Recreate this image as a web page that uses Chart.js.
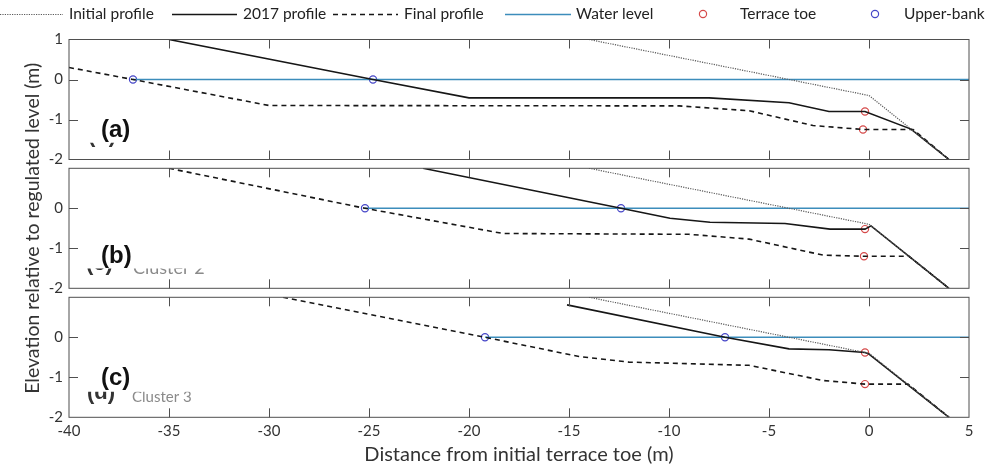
<!DOCTYPE html>
<html><head><meta charset="utf-8">
<script src="https://cdn.jsdelivr.net/npm/chart.js@4.4.1/dist/chart.umd.min.js"></script>
<style>
html,body{margin:0;padding:0;background:#fff;}
#wrap{position:relative;width:988px;height:465px;overflow:hidden;background:#fff;}
canvas{position:absolute;left:0;top:0;}
</style></head>
<body><div id="wrap">
<canvas id="pa" width="988" height="465"></canvas>
<canvas id="pb" width="988" height="465"></canvas>
<canvas id="pc" width="988" height="465"></canvas>
</div>
<script>
// ---- tick labels / text ----
const xTicks = [-40, -35, -30, -25, -20, -15, -10, -5, 0, 5];
const yTicks = [-2, -1, 0, 1];
const seriesNames = ['Initial profile', '2017 profile', 'Final profile', 'Water level', 'Terrace toe', 'Upper-bank'];
const panelLabels = ['(a)', '(b)', '(c)'];
const ghostLabels = [['(b)', ''], ['(c)', 'Cluster 2'], ['(d)', 'Cluster 3']];
const xTitle = 'Distance from initial terrace toe (m)';
const yTitle = 'Elevation relative to regulated level (m)';

// ---- initial profile (same in every panel) ----
const initialX = [-14, 0, 4];
const initialY = [1, -0.4, -2];

// ---- panel (a) ----
const a2017X = [-35, -24.8, -20, -8, -4, -2, -0.2, 2.1, 4];
const a2017Y = [1, 0, -0.46, -0.46, -0.58, -0.8, -0.8, -1.24, -2];
const aFinalX = [-40, -36.8, -30, -9.5, -6, -2.8, -0.3, 2.2, 4];
const aFinalY = [0.3, 0, -0.65, -0.66, -0.78, -1.15, -1.25, -1.25, -2];
const aWaterX = [-36.8, 5];
const aToeX = [-0.2, -0.3];
const aToeY = [-0.8, -1.25];
const aBankX = [-36.8, -24.8];

// ---- panel (b) ----
const b2017X = [-22.3, -12.4, -9.95, -7.95, -4.2, -1.95, -0.2, 0.1, 4];
const b2017Y = [1, 0, -0.25, -0.35, -0.38, -0.52, -0.52, -0.44, -2];
const bFinalX = [-35, -25.2, -18.3, -9, -6, -2.3, -0.25, 2.0, 4];
const bFinalY = [1, 0, -0.63, -0.65, -0.77, -1.17, -1.2, -1.2, -2];
const bWaterX = [-25.2, 5];
const bToeX = [-0.2, -0.25];
const bToeY = [-0.52, -1.2];
const bBankX = [-25.2, -12.4];

// ---- panel (c) ----
const c2017X = [-15.1, -7.2, -4.0, -2.0, -0.2, 0, 4];
const c2017Y = [0.81, 0, -0.29, -0.31, -0.38, -0.42, -2];
const cFinalX = [-29.3, -19.2, -14.5, -12, -6, -2.3, -0.2, 1.95, 4];
const cFinalY = [1, 0, -0.48, -0.62, -0.7, -1.08, -1.17, -1.17, -2];
const cWaterX = [-19.2, 5];
const cToeX = [-0.2, -0.2];
const cToeY = [-0.38, -1.17];
const cBankX = [-19.2, -7.2];

const waterY = [0, 0];
const bankY = [0, 0];

// ---- styling ----
const FONT = 'Lato, "Open Sans", sans-serif';
const frameColor = '#4f4f4f';
const textColor = '#333';
const styles = [
  {borderColor: '#5a5a5a', borderWidth: 1.2, borderDash: [1.2, 1.2]},
  {borderColor: '#161616', borderWidth: 1.6, borderDash: []},
  {borderColor: '#161616', borderWidth: 1.6, borderDash: [5, 4]},
  {borderColor: '#3c8dbb', borderWidth: 1.6, borderDash: []},
  {marker: '#d64a4a'},
  {marker: '#4646c8'}
];

function pts(xs, ys) { return xs.map((x, i) => ({x: x, y: ys[i]})); }

function lineDs(i, data) {
  const s = styles[i];
  return {label: seriesNames[i], data: data, showLine: true, fill: false, tension: 0,
    borderColor: s.borderColor, borderWidth: s.borderWidth, borderDash: s.borderDash,
    pointRadius: 0, pointHoverRadius: 0};
}
function markerDs(i, data) {
  const s = styles[i];
  return {label: seriesNames[i], data: data, showLine: false,
    pointRadius: 3.6, pointHoverRadius: 3.6, pointBorderWidth: 1.2,
    pointBorderColor: s.marker, pointBackgroundColor: '#ffffff',
    borderColor: s.marker, backgroundColor: '#ffffff'};
}

const panelData = [
  [pts(initialX, initialY), pts(a2017X, a2017Y), pts(aFinalX, aFinalY), pts(aWaterX, waterY), pts(aToeX, aToeY), pts(aBankX, bankY)],
  [pts(initialX, initialY), pts(b2017X, b2017Y), pts(bFinalX, bFinalY), pts(bWaterX, waterY), pts(bToeX, bToeY), pts(bBankX, bankY)],
  [pts(initialX, initialY), pts(c2017X, c2017Y), pts(cFinalX, cFinalY), pts(cWaterX, waterY), pts(cToeX, cToeY), pts(cBankX, bankY)]
];

// panel geometry (page pixels)
const W = 988, H = 465;
const areaLeft = 69, areaRight = 969;
const areaTops = [39.5, 168.3, 297.3];
const areaBottoms = [159.5, 288.3, 417.3];
const labelBase = [137, 263, 385];

function framePlugin() {
  return {
    id: 'frameTicks',
    afterDatasetsDraw(chart) {
      const {ctx, chartArea: a, scales: {x, y}} = chart;
      ctx.save();
      ctx.strokeStyle = frameColor;
      ctx.lineWidth = 1;
      ctx.setLineDash([]);
      ctx.beginPath();
      xTicks.forEach(v => {
        if (v <= x.min || v >= x.max) return;
        const px = Math.round(x.getPixelForValue(v)) + 0.5;
        ctx.moveTo(px, a.bottom); ctx.lineTo(px, a.bottom - 9);
        ctx.moveTo(px, a.top); ctx.lineTo(px, a.top + 9);
      });
      yTicks.forEach(v => {
        if (v <= y.min || v >= y.max) return;
        const py = Math.round(y.getPixelForValue(v)) + 0.5;
        ctx.moveTo(a.left, py); ctx.lineTo(a.left + 9, py);
        ctx.moveTo(a.right, py); ctx.lineTo(a.right - 9, py);
      });
      ctx.stroke();
      ctx.strokeRect(a.left, a.top, a.right - a.left, a.bottom - a.top);
      ctx.restore();
    }
  };
}

function labelPlugin(p) {
  return {
    id: 'panelLabel',
    afterDraw(chart) {
      const ctx = chart.ctx;
      ctx.save();
      // partially hidden leftover caption
      const g = ghostLabels[p];
      const clipTop = [142.8, 268.5, 391.7][p];
      ctx.beginPath();
      ctx.rect(80, clipTop, 160, 14);
      ctx.clip();
      ctx.textBaseline = 'alphabetic';
      ctx.textAlign = 'left';
      ctx.fillStyle = '#333';
      ctx.font = 'bold 22px "Liberation Sans", Arial, sans-serif';
      ctx.fillText(g[0], [88, 86, 87][p], [142.4, 270.4, 398.7][p]);
      if (g[1]) {
        ctx.fillStyle = '#8a8a8a';
        ctx.font = (p === 1 ? '18px ' : '15px ') + FONT;
        ctx.fillText(g[1], [133, 133, 132][p], [0, 274, 401.5][p]);
      }
      ctx.restore();
      ctx.save();
      ctx.fillStyle = '#111';
      ctx.font = 'bold 24px "Liberation Sans", Arial, sans-serif';
      ctx.textBaseline = 'alphabetic';
      ctx.textAlign = 'left';
      ctx.fillText(panelLabels[p], 101, labelBase[p]);
      ctx.restore();
    }
  };
}

function legendPlugin() {
  return {
    id: 'topLegend',
    afterDraw(chart) {
      const ctx = chart.ctx;
      const yc = 14;
      const items = [
        {s: 0, x0: 0, x1: 63, tx: 69},
        {s: 1, x0: 172, x1: 237, tx: 243},
        {s: 2, x0: 333, x1: 398, tx: 404},
        {s: 3, x0: 505, x1: 571, tx: 576},
        {s: 4, mx: 703, tx: 740},
        {s: 5, mx: 875, tx: 904}
      ];
      ctx.save();
      ctx.font = '15.5px ' + FONT;
      ctx.textBaseline = 'middle';
      ctx.textAlign = 'left';
      items.forEach(it => {
        const st = styles[it.s];
        if (st.marker) {
          ctx.beginPath();
          ctx.setLineDash([]);
          ctx.lineWidth = 1.2;
          ctx.strokeStyle = st.marker;
          ctx.fillStyle = '#fff';
          ctx.arc(it.mx, yc, 3.6, 0, Math.PI * 2);
          ctx.fill(); ctx.stroke();
        } else {
          ctx.beginPath();
          ctx.setLineDash(st.borderDash);
          ctx.lineWidth = st.borderWidth;
          ctx.strokeStyle = st.borderColor;
          ctx.moveTo(it.x0, yc + 0.5); ctx.lineTo(it.x1, yc + 0.5);
          ctx.stroke();
        }
        ctx.setLineDash([]);
        ctx.fillStyle = '#222';
        ctx.fillText(seriesNames[it.s], it.tx, yc);
      });
      ctx.restore();
    }
  };
}

function makeChart(id, p) {
  const datasets = panelData[p].map((d, i) => i < 4 ? lineDs(i, d) : markerDs(i, d));
  const isBottom = p === 2;
  const plugins = [framePlugin(), labelPlugin(p)];
  if (p === 0) plugins.push(legendPlugin());
  return new Chart(document.getElementById(id), {
    type: 'scatter',
    data: {datasets: datasets},
    plugins: plugins,
    options: {
      responsive: false,
      animation: false,
      events: [],
      layout: {padding: {left: 0, right: W - areaRight, top: areaTops[p], bottom: 0}},
      plugins: {legend: {display: false}, tooltip: {enabled: false}, title: {display: false}},
      scales: {
        x: {
          type: 'linear', min: -40, max: 5,
          afterBuildTicks: s => { s.ticks = xTicks.map(v => ({value: v})); },
          grid: {display: false, drawTicks: false},
          border: {display: false},
          ticks: {display: isBottom, autoSkip: false, maxRotation: 0, padding: 5,
                  color: textColor, font: {family: FONT, size: 15}},
          title: {display: isBottom, text: xTitle, color: textColor,
                  font: {family: FONT, size: 20, lineHeight: 1.0}, padding: {top: 0, bottom: 0}},
          afterFit: s => { s.height = H - areaBottoms[p]; s.paddingLeft = 0; s.paddingRight = 0; }
        },
        y: {
          type: 'linear', min: -2, max: 1,
          afterBuildTicks: s => { s.ticks = yTicks.map(v => ({value: v})); },
          grid: {display: false, drawTicks: false},
          border: {display: false},
          ticks: {padding: 6, color: textColor, font: {family: FONT, size: 15},
                  callback: v => (p > 0 && v === 1) ? '' : String(v)},
          title: {display: p === 1, text: yTitle, color: textColor,
                  font: {family: FONT, size: 19.5, lineHeight: 1.0}, padding: {top: 23, bottom: 0}},
          afterFit: s => { s.width = areaLeft; s.paddingTop = 0; s.paddingBottom = 0; }
        }
      }
    }
  });
}

makeChart('pa', 0);
makeChart('pb', 1);
makeChart('pc', 2);
</script>
</body></html>
